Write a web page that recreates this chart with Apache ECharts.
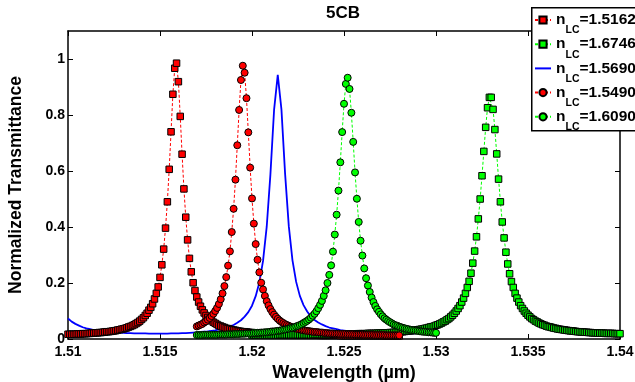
<!DOCTYPE html>
<html><head><meta charset="utf-8">
<script src="https://cdn.jsdelivr.net/npm/echarts@6.0.0/dist/echarts.min.js"></script>
<style>html,body{margin:0;padding:0;background:#fff}#c{width:635px;height:382px}</style>
</head><body><div id="c"></div>
<script>
// ---- chart data ----
const titleText = '5CB';
const xName = 'Wavelength (\u00b5m)';
const yName = 'Normalized Transmittance';
const xTicks = [1.51, 1.515, 1.52, 1.525, 1.53, 1.535, 1.54];
const yTicks = [0, 0.2, 0.4, 0.6, 0.8, 1];
const legendOrder = ['n_LC=1.5162', 'n_LC=1.6746', 'n_LC=1.5690', 'n_LC=1.5490', 'n_LC=1.6090'];

const stepFine = 0.0001;   // sampling of the marker curves (um)
const stepBlue = 0.0002;   // sampling of the solid curve (um)

// n_LC = 1.5162 : red squares, from 1.510 um
const redSqStart = 1.510;
const redSqT = [
0.017,0.017,0.017,0.017,0.017,0.018,0.018,0.018,0.019,0.019,
0.019,0.020,0.020,0.021,0.021,0.022,0.022,0.023,0.023,0.024,
0.025,0.026,0.026,0.027,0.028,0.029,0.030,0.032,0.033,0.035,
0.036,0.038,0.040,0.043,0.045,0.048,0.051,0.055,0.059,0.064,
0.070,0.076,0.084,0.092,0.103,0.113,0.126,0.143,0.163,0.186,
0.220,0.265,0.321,0.396,0.490,0.606,0.740,0.874,0.967,0.985,
0.919,0.795,0.660,0.536,0.435,0.354,0.288,0.240,0.201,0.173,
0.150,0.132,0.117,0.104,0.093,0.084,0.077,0.070,0.065,0.060,
0.056,0.052,0.048,0.046,0.043,0.041,0.038,0.037,0.035,0.033,
0.032,0.031,0.029,0.028,0.027,0.026,0.026,0.025,0.024,0.023,
0.023,0.022,0.022,0.021,0.021,0.020,0.020,0.019,0.019,0.019,
0.018,0.018,0.018,0.017,0.017,0.017,0.017,0.017,0.016,0.016,
0.016,0.016,0.016,0.015,0.015,0.015,0.015,0.015,0.015,0.014,
0.014,0.014,0.014,0.014,0.014,0.014,0.014,0.013,0.013,0.013,
0.013,0.013,0.013,0.013,0.013,0.013,0.013,0.013,0.012,0.012,
0.012,0.012,0.012,0.012,0.012,0.012,0.012,0.012,0.012,0.012,
0.012,0.012,0.012,0.012,0.012,0.012,0.012,0.012,0.012,0.012,
0.012,0.012,0.011,0.011,0.011,0.011,0.011,0.011,0.011,0.011,0.011
];

// n_LC = 1.6746 : green squares, from 1.520 um
const greenSqStart = 1.520;
const greenSqT = [
0.014,0.014,0.014,0.014,0.014,0.014,0.014,0.014,0.014,0.014,
0.014,0.014,0.014,0.014,0.014,0.015,0.015,0.015,0.015,0.015,
0.015,0.015,0.015,0.015,0.015,0.015,0.015,0.015,0.015,0.015,
0.015,0.015,0.015,0.016,0.016,0.016,0.016,0.016,0.016,0.016,
0.016,0.016,0.016,0.016,0.017,0.017,0.017,0.017,0.017,0.017,
0.017,0.017,0.018,0.018,0.018,0.018,0.018,0.018,0.019,0.019,
0.019,0.019,0.019,0.020,0.020,0.020,0.020,0.020,0.021,0.021,
0.021,0.021,0.022,0.022,0.022,0.023,0.023,0.024,0.024,0.025,
0.025,0.026,0.026,0.027,0.028,0.029,0.029,0.030,0.031,0.032,
0.033,0.034,0.035,0.036,0.038,0.039,0.041,0.043,0.044,0.046,
0.049,0.051,0.054,0.057,0.061,0.064,0.069,0.073,0.079,0.085,
0.092,0.100,0.109,0.119,0.132,0.146,0.163,0.184,0.206,0.235,
0.271,0.314,0.365,0.429,0.500,0.583,0.670,0.756,0.826,0.863,
0.863,0.820,0.748,0.661,0.571,0.490,0.418,0.361,0.310,0.268,
0.233,0.205,0.184,0.163,0.146,0.132,0.119,0.109,0.100,0.092,
0.085,0.079,0.073,0.069,0.064,0.061,0.057,0.054,0.051,0.049,
0.046,0.044,0.043,0.041,0.039,0.038,0.036,0.035,0.034,0.033,
0.032,0.031,0.030,0.029,0.029,0.028,0.027,0.026,0.026,0.025,
0.025,0.024,0.024,0.023,0.023,0.022,0.022,0.022,0.021,0.021,
0.021,0.021,0.020,0.020,0.020,0.020,0.020,0.019,0.019,0.019,0.019
];

// n_LC = 1.5690 : blue solid line, from 1.510 um
const blueStart = 1.510;
const blueT = [
0.073,0.062,0.054,0.048,0.042,0.038,0.035,0.032,0.030,0.028,
0.027,0.025,0.024,0.023,0.023,0.022,0.021,0.021,0.020,0.020,
0.020,0.020,0.019,0.019,0.019,0.019,0.019,0.019,0.020,0.020,
0.020,0.021,0.021,0.022,0.023,0.024,0.025,0.026,0.027,0.029,
0.031,0.034,0.037,0.040,0.045,0.050,0.058,0.067,0.080,0.096,
0.119,0.153,0.202,0.279,0.401,0.587,0.818,0.943,0.820,0.589,
0.403,0.281,0.204,0.154,0.121,0.098,0.080,0.068,0.059,0.052,
0.046,0.041,0.038,0.035,0.032,0.030,0.028,0.027,0.026,0.025,
0.023,0.023,0.022,0.021,0.021,0.021,0.020,0.020,0.020,0.020,
0.020,0.020,0.020,0.020,0.020,0.021,0.021,0.021,0.022,0.023,0.023
];

// n_LC = 1.5490 : red circles, from 1.517 um
const redCircStart = 1.517;
const redCircT = [
0.045,0.048,0.051,0.054,0.059,0.063,0.069,0.075,0.082,0.090,
0.100,0.111,0.125,0.142,0.163,0.189,0.221,0.262,0.313,0.382,
0.465,0.569,0.692,0.818,0.925,0.976,0.951,0.860,0.738,0.612,
0.502,0.412,0.339,0.283,0.238,0.201,0.177,0.154,0.135,0.120,
0.107,0.096,0.087,0.079,0.072,0.066,0.061,0.057,0.053,0.050,
0.047,0.044,0.041,0.039,0.037,0.036,0.034,0.033,0.031,0.030,
0.029,0.028,0.027,0.026,0.025,0.025,0.024,0.023,0.023,0.022,
0.021,0.021,0.020,0.020,0.020,0.019,0.019,0.019,0.018,0.018,
0.018,0.018,0.017,0.017,0.017,0.017,0.016,0.016,0.016,0.016,
0.016,0.015,0.015,0.015,0.015,0.015,0.015,0.014,0.014,0.014,
0.014,0.014,0.014,0.013,0.013,0.013,0.013,0.013,0.013,0.013,0.013
];

// n_LC = 1.6090 : green circles, from 1.517 um
const greenCircStart = 1.517;
const greenCircT = [
0.014,0.014,0.014,0.014,0.015,0.015,0.015,0.015,0.015,0.015,
0.015,0.015,0.016,0.016,0.016,0.016,0.016,0.017,0.017,0.017,
0.017,0.018,0.018,0.018,0.019,0.019,0.019,0.020,0.020,0.020,
0.020,0.021,0.021,0.022,0.022,0.023,0.023,0.024,0.024,0.025,
0.026,0.027,0.027,0.028,0.029,0.030,0.031,0.033,0.034,0.035,
0.037,0.039,0.040,0.042,0.045,0.047,0.050,0.053,0.057,0.061,
0.065,0.070,0.076,0.083,0.090,0.099,0.110,0.122,0.136,0.154,
0.174,0.200,0.229,0.263,0.312,0.373,0.444,0.530,0.631,0.739,
0.840,0.911,0.933,0.893,0.808,0.704,0.595,0.501,0.418,0.351,
0.298,0.252,0.217,0.191,0.168,0.148,0.132,0.118,0.106,0.097,
0.088,0.081,0.074,0.069,0.064,0.060,0.056,0.052,0.049,0.047,
0.044,0.042,0.040,0.038,0.036,0.035,0.033,0.032,0.031,0.030,
0.029,0.028,0.027,0.026,0.026,0.025,0.024,0.024,0.023,0.022,0.022
];

// ---- build ----
function pairs(start, step, vals) {
  return vals.map((v, i) => [+(start + i * step).toFixed(5), v]);
}
const FONT = '"Liberation Sans", Arial, Helvetica, sans-serif';
const RED = '#ff0000', GREEN = '#00ff00', BLUE = '#0000ff';

function markerSeries(name, data, color, symbol, size) {
  return {
    name, type: 'line', data, symbol, symbolSize: size, showAllSymbol: true,
    lineStyle: { color, width: 1, type: [3, 2] },
    itemStyle: { color, borderColor: '#000', borderWidth: 1 },
    emphasis: { disabled: true }, silent: true, clip: true
  };
}

const chart = echarts.init(document.getElementById('c'), null, { renderer: 'canvas' });
const xMin = xTicks[0], xMax = xTicks[xTicks.length - 1];
const xInt = xTicks[1] - xTicks[0];
const yInt = yTicks[1] - yTicks[0];
const axisCommonX = {
  type: 'value', min: xMin, max: xMax, interval: xInt,
  axisLine: { show: true, onZero: false, lineStyle: { color: '#000', width: 1.5 } },
  axisTick: { show: true, inside: true, length: 5, lineStyle: { color: '#000', width: 1 } },
  splitLine: { show: false }
};
const axisCommonY = {
  type: 'value', min: 0, max: 1.1, interval: yInt,
  axisLine: { show: true, onZero: false, lineStyle: { color: '#000', width: 1.5 } },
  axisTick: { show: true, inside: true, length: 5, lineStyle: { color: '#000', width: 1 } },
  splitLine: { show: false }
};

const legendData = legendOrder.map((name, i) => i === 2
  ? { name, itemStyle: { color: 'rgba(0,0,0,0)', borderColor: 'rgba(0,0,0,0)', borderWidth: 0 } }
  : { name });

chart.setOption({
  animation: false,
  backgroundColor: '#fff',
  textStyle: { fontFamily: FONT },
  title: {
    text: titleText, left: 343, top: 5, textAlign: 'center', padding: 0,
    textStyle: { fontFamily: FONT, fontWeight: 'bold', fontSize: 17, color: '#000' }
  },
  grid: { left: 68, right: 15, top: 31, bottom: 43, containLabel: false, outerBoundsMode: 'none' },
  xAxis: [
    Object.assign({}, axisCommonX, {
      position: 'bottom',
      name: xName, nameLocation: 'middle', nameGap: 24,
      nameTextStyle: { fontFamily: FONT, fontWeight: 'bold', fontSize: 18, color: '#000' },
      axisLabel: { show: true, margin: 6, color: '#000', fontFamily: FONT, fontWeight: 'bold', fontSize: 14,
        formatter: v => String(parseFloat(v.toFixed(3))) }
    }),
    Object.assign({}, axisCommonX, { position: 'top', axisLabel: { show: false } })
  ],
  yAxis: [
    Object.assign({}, axisCommonY, {
      position: 'left',
      name: yName, nameLocation: 'middle', nameGap: 43,
      nameTextStyle: { fontFamily: FONT, fontWeight: 'bold', fontSize: 17.5, color: '#000' },
      axisLabel: { show: true, margin: 3, color: '#000', fontFamily: FONT, fontWeight: 'bold', fontSize: 14,
        showMaxLabel: false, formatter: v => String(parseFloat(v.toFixed(1))) }
    }),
    Object.assign({}, axisCommonY, { position: 'right', axisLabel: { show: false } })
  ],
  legend: {
    data: legendData, orient: 'vertical', left: 534, top: 12, padding: 0,
    itemGap: 0.2, itemWidth: 16, itemHeight: 9, selectedMode: false,
    formatter: name => '{n|n}{s|LC}{n|=' + name.split('=')[1] + '}',
    textStyle: {
      color: '#000', fontFamily: FONT,
      rich: {
        n: { fontSize: 15.5, fontWeight: 'bold', lineHeight: 16, verticalAlign: 'top', color: '#000', fontFamily: FONT },
        s: { fontSize: 10.5, fontWeight: 'bold', lineHeight: 11, verticalAlign: 'top', padding: [13, 0, 0, 0], color: '#000', fontFamily: FONT }
      }
    }
  },
  graphic: [{
    type: 'rect', left: 531, top: 7, z: 3, silent: true,
    shape: { width: 120, height: 123 },
    style: { fill: '#fff', stroke: '#000', lineWidth: 1.5 }
  }],
  series: [
    markerSeries(legendOrder[0], pairs(redSqStart, stepFine, redSqT), RED, 'rect', 6.5),
    markerSeries(legendOrder[1], pairs(greenSqStart, stepFine, greenSqT), GREEN, 'rect', 6.5),
    {
      name: legendOrder[2], type: 'line', data: pairs(blueStart, stepBlue, blueT),
      showSymbol: false, symbol: 'none', lineStyle: { color: BLUE, width: 1.8 },
      itemStyle: { color: BLUE }, emphasis: { disabled: true }, silent: true
    },
    markerSeries(legendOrder[3], pairs(redCircStart, stepFine, redCircT), RED, 'circle', 7),
    markerSeries(legendOrder[4], pairs(greenCircStart, stepFine, greenCircT), GREEN, 'circle', 7)
  ]
});
</script>
</body></html>
